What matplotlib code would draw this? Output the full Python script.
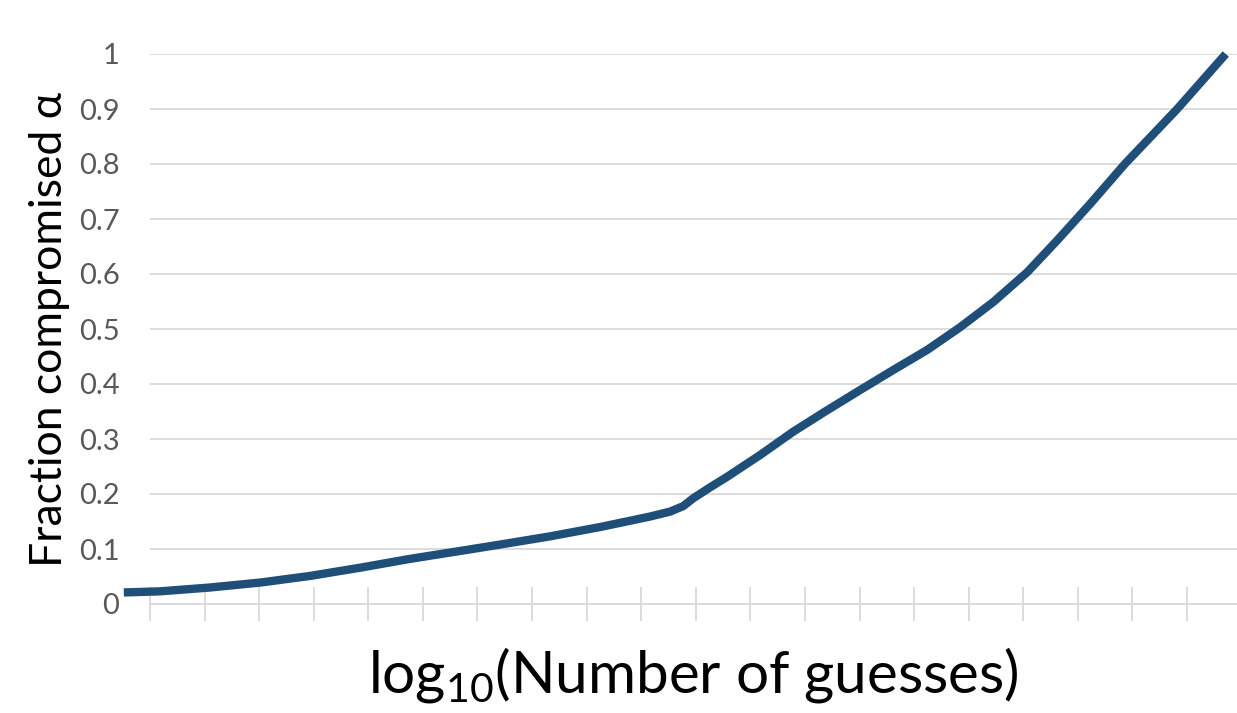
import matplotlib
matplotlib.use('Agg')
import matplotlib.pyplot as plt
import numpy as np

plt.rcParams['font.family'] = ['Lato', 'DejaVu Sans']
plt.rcParams['mathtext.fontset'] = 'custom'
plt.rcParams['mathtext.rm'] = 'Lato'
plt.rcParams['mathtext.it'] = 'Lato:italic'

# curve (x in tick units, tick 0 = first tick mark)
guess_pos = [-0.48, 0.18, 1.10, 2.02, 2.93, 3.85, 4.76, 5.59, 6.41, 7.33,
             8.25, 9.16, 9.53, 9.77, 9.95, 10.26, 10.57, 11.18, 11.78, 12.37,
             13.01, 13.61, 14.24, 14.84, 15.45, 16.07, 16.62, 17.23, 17.86,
             18.82, 19.71]
fraction = [0.021, 0.023, 0.030, 0.039, 0.051, 0.066, 0.082, 0.095, 0.108, 0.123,
            0.140, 0.159, 0.168, 0.178, 0.192, 0.212, 0.231, 0.271, 0.313, 0.350,
            0.389, 0.425, 0.462, 0.503, 0.549, 0.603, 0.661, 0.728, 0.800,
            0.900, 1.000]
x_ticks = list(range(20))
y_ticks = [0, 0.1, 0.2, 0.3, 0.4, 0.5, 0.6, 0.7, 0.8, 0.9, 1]
y_tick_labels = ['0', '0.1', '0.2', '0.3', '0.4', '0.5', '0.6', '0.7', '0.8', '0.9', '1']

line_color = '#1F4E79'
grid_color = '#D9D9D9'

fig = plt.figure(figsize=(12.37, 7.13), dpi=100)
ax = fig.add_axes([150 / 1237, 1 - 604 / 713, 1 - 150 / 1237, 550 / 713])

ax.plot(guess_pos, fraction, color=line_color, linewidth=6,
        solid_joinstyle='round', solid_capstyle='butt', clip_on=False, zorder=3)

ax.set_xlim(0, (1237 - 150) / 54.58)
ax.set_ylim(0, 1)

ax.set_yticks(y_ticks)
ax.set_yticklabels(y_tick_labels)
ax.set_xticks(x_ticks)
ax.set_xticklabels([])

ax.yaxis.grid(True, color=grid_color, linewidth=1.3)
ax.set_axisbelow(True)
for s in ['top', 'right', 'left']:
    ax.spines[s].set_visible(False)
ax.spines['bottom'].set_color(grid_color)
ax.spines['bottom'].set_linewidth(1.3)

ax.tick_params(axis='y', length=0, pad=22, labelsize=21, labelcolor='#595959')
ax.tick_params(axis='x', direction='inout', length=24, width=1.3, color=grid_color)

ax.set_ylabel('Fraction compromised α', fontsize=32, labelpad=6)
ax.set_xlabel(r'log$_{10}$(Number of guesses)', fontsize=42, labelpad=14)

fig.savefig('out.png', dpi=100)
